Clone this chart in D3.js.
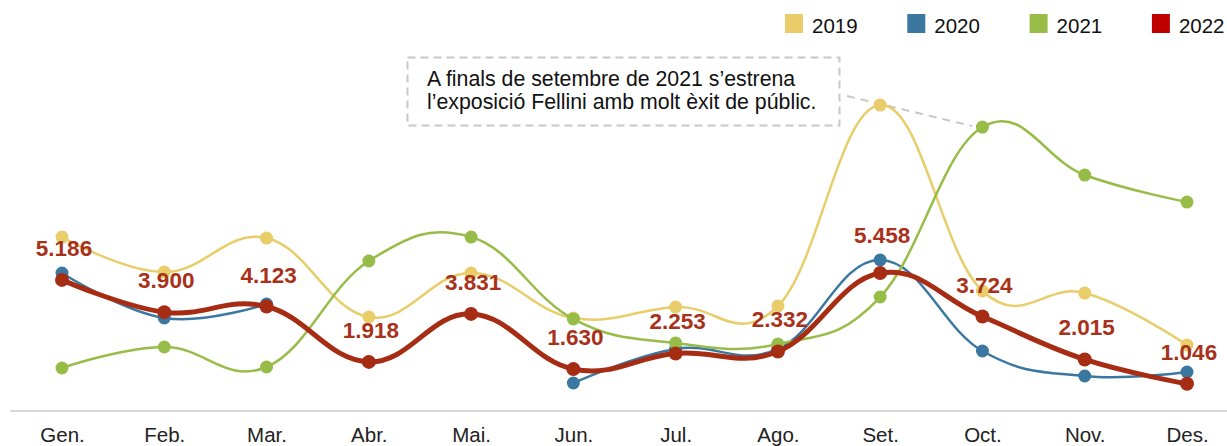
<!DOCTYPE html>
<html><head><meta charset="utf-8">
<script src="https://cdn.jsdelivr.net/npm/d3@7"></script>
<style>body{margin:0;background:#fff}svg{display:block;font-family:Arial,"Liberation Sans",sans-serif}</style>
</head><body>
<svg id="c" width="1227" height="446"></svg>
<script>
const months = ["Gen.","Feb.","Mar.","Abr.","Mai.","Jun.","Jul.","Ago.","Set.","Oct.","Nov.","Des."];
const years = ["2019","2020","2021","2022"];
const v2019 = [6894,5499,6854,3706,5459,3666,4105,4144,12154,4742,4662,2590];
const v2020 = [5459,3666,4224,null,null,1076,2431,2431,5978,2351,1355,1514];
const v2021 = [1674,2511,1714,5938,6894,3626,2670,2630,4503,11278,9365,8289];
const v2022 = [5186,3900,4123,1918,3831,1630,2253,2332,5458,3724,2015,1046];
const labels2022 = ["5.186","3.900","4.123","1.918","3.831","1.630","2.253","2.332","5.458","3.724","2.015","1.046"];
const annotation = ["A finals de setembre de 2021 s\u2019estrena","l\u2019exposici\u00f3 Fellini amb molt \u00e8xit de p\u00fablic."];

const colors = {"2019":"#e8cd6a","2020":"#3a78a2","2021":"#97bd48","2022":"#a62c14"};
const legendColors = {"2019":"#e8cd6a","2020":"#3a78a2","2021":"#97bd48","2022":"#c00000"};
const seriesVals = {"2019":v2019,"2020":v2020,"2021":v2021,"2022":v2022};

const svg = d3.select("#c");
const x = d3.scalePoint().domain(months).range([62,1187]);
const y = d3.scaleLinear().domain([0,12000]).range([410,410-12000*0.02509]);

// baseline
svg.append("line").attr("x1",10).attr("x2",1227).attr("y1",y(0)+1).attr("y2",y(0)+1)
  .attr("stroke","#d9d9d9").attr("stroke-width",2);

// x axis labels
const ax = svg.append("g").attr("transform","translate(0,442)")
  .call(d3.axisBottom(x).tickSize(0).tickPadding(0));
ax.select(".domain").remove();
ax.selectAll("text").attr("dy",0).attr("font-size",20.5).attr("fill","#222")
  .attr("font-family","Arial, 'Liberation Sans', sans-serif");

// annotation box
svg.append("rect").attr("x",407.5).attr("y",57.5).attr("width",432).attr("height",68)
  .attr("fill","none").attr("stroke","#c8c8c8").attr("stroke-width",2).attr("stroke-dasharray","8,5");
svg.append("line").attr("x1",847).attr("y1",96).attr("x2",972).attr("y2",126)
  .attr("stroke","#c8c8c8").attr("stroke-width",2).attr("stroke-dasharray","8,6");
svg.selectAll("text.ann").data(annotation).enter().append("text")
  .attr("x",427).attr("y",(d,i)=>86+i*23).attr("font-size",21.3).attr("fill","#111").text(d=>d);

const line = d3.line().defined(d=>d[1]!=null)
  .x(d=>x(d[0])).y(d=>y(d[1])).curve(d3.curveCardinal.tension(-0.2));

years.forEach(yr=>{
  const data = months.map((m,i)=>[m, seriesVals[yr][i]]);
  const main = yr==="2022";
  svg.append("path").datum(data).attr("d",line).attr("fill","none")
    .attr("stroke",colors[yr]).attr("stroke-width",main?5:2.5)
    .attr("stroke-linejoin","round").attr("stroke-linecap","round");
  svg.selectAll(null).data(data.filter(d=>d[1]!=null)).enter().append("circle")
    .attr("cx",d=>x(d[0])).attr("cy",d=>y(d[1])).attr("r",main?7:6.5)
    .attr("fill",colors[yr]);
});

// data labels 2022
svg.selectAll("text.lab").data(months).enter().append("text")
  .attr("x",(m)=>x(m)+2).attr("y",(m,i)=>y(v2022[i])-(i===8?30:24))
  .attr("text-anchor","middle").attr("font-size",22.5).attr("font-weight","bold")
  .attr("fill","#a8311a").text((m,i)=>labels2022[i]);

// legend
const lg = svg.selectAll("g.lg").data(years).enter().append("g")
  .attr("transform",(d,i)=>`translate(${785+i*122.3},14)`);
lg.append("rect").attr("width",18).attr("height",19).attr("fill",d=>legendColors[d]);
lg.append("text").attr("x",27).attr("y",18.5).attr("font-size",20.5).attr("fill","#111").text(d=>d);
</script>
</body></html>
